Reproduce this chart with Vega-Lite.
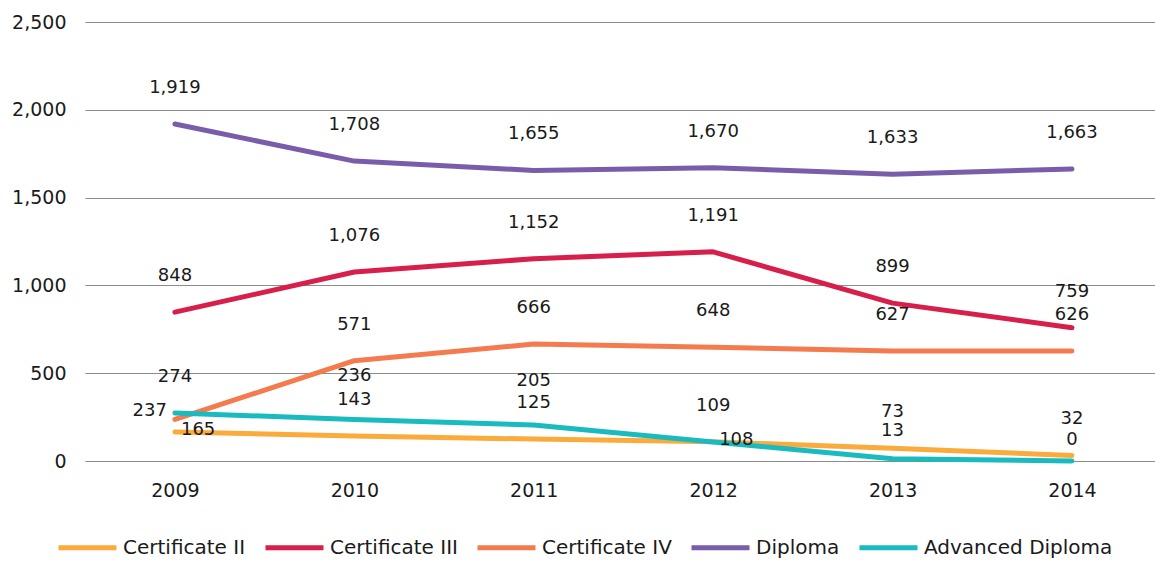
{
  "$schema": "https://vega.github.io/schema/vega-lite/v6.json",
  "width": 1070,
  "height": 439,
  "autosize": {"type": "none"},
  "padding": {"left": 85, "top": 22, "right": 0, "bottom": 101},
  "background": "white",
  "data": {
    "values": [
      {"series": "Certificate II", "year": "2009", "value": 165},
      {"series": "Certificate II", "year": "2010", "value": 143},
      {"series": "Certificate II", "year": "2011", "value": 125},
      {"series": "Certificate II", "year": "2012", "value": 109},
      {"series": "Certificate II", "year": "2013", "value": 73},
      {"series": "Certificate II", "year": "2014", "value": 32},
      {"series": "Certificate III", "year": "2009", "value": 848},
      {"series": "Certificate III", "year": "2010", "value": 1076},
      {"series": "Certificate III", "year": "2011", "value": 1152},
      {"series": "Certificate III", "year": "2012", "value": 1191},
      {"series": "Certificate III", "year": "2013", "value": 899},
      {"series": "Certificate III", "year": "2014", "value": 759},
      {"series": "Certificate IV", "year": "2009", "value": 237},
      {"series": "Certificate IV", "year": "2010", "value": 571},
      {"series": "Certificate IV", "year": "2011", "value": 666},
      {"series": "Certificate IV", "year": "2012", "value": 648},
      {"series": "Certificate IV", "year": "2013", "value": 627},
      {"series": "Certificate IV", "year": "2014", "value": 626},
      {"series": "Diploma", "year": "2009", "value": 1919},
      {"series": "Diploma", "year": "2010", "value": 1708},
      {"series": "Diploma", "year": "2011", "value": 1655},
      {"series": "Diploma", "year": "2012", "value": 1670},
      {"series": "Diploma", "year": "2013", "value": 1633},
      {"series": "Diploma", "year": "2014", "value": 1663},
      {"series": "Advanced Diploma", "year": "2009", "value": 274},
      {"series": "Advanced Diploma", "year": "2010", "value": 236},
      {"series": "Advanced Diploma", "year": "2011", "value": 205},
      {"series": "Advanced Diploma", "year": "2012", "value": 108},
      {"series": "Advanced Diploma", "year": "2013", "value": 13},
      {"series": "Advanced Diploma", "year": "2014", "value": 0}
    ]
  },
  "encoding": {
    "x": {
      "field": "year", "type": "ordinal",
      "scale": {"type": "point", "padding": 0.482, "align": 0.52},
      "axis": {"title": null, "domain": false, "ticks": false, "labelAngle": 0, "labelPadding": 20, "labelFontSize": 19, "grid": false}
    },
    "y": {
      "field": "value", "type": "quantitative",
      "scale": {"domain": [0, 2500], "nice": false},
      "axis": {"title": null, "values": [0, 500, 1000, 1500, 2000, 2500], "format": ",d", "domain": false, "ticks": false, "labelPadding": 19, "labelFontSize": 19, "gridColor": "#8c8c8c", "gridWidth": 1}
    },
    "color": {
      "field": "series", "type": "nominal",
      "scale": {
        "domain": ["Certificate II", "Certificate III", "Certificate IV", "Diploma", "Advanced Diploma"],
        "range": ["#FBAA3C", "#D71F4B", "#F47B4D", "#7A5DAA", "#19BBBF"]
      },
      "legend": {
        "title": null, "orient": "none", "direction": "horizontal",
        "legendX": -29, "legendY": 494,
        "symbolType": "stroke", "symbolSize": 3364, "symbolStrokeWidth": 5,
        "labelFontSize": 20, "labelOffset": 4, "columnPadding": 9,
        "labelLimit": 300, "padding": 0
      }
    }
  },
  "layer": [
    {
      "mark": {"type": "line", "strokeWidth": 5, "strokeCap": "round", "strokeJoin": "round"},
      "encoding": {}
    },
    {
      "transform": [{"filter": "!((datum.series=='Certificate IV'&&datum.year=='2009')||(datum.series=='Certificate II'&&datum.year=='2009')||(datum.series=='Advanced Diploma'&&(datum.year=='2012'||datum.year=='2010'||datum.year=='2011'||datum.year=='2013'||datum.year=='2014')))"}],
      "mark": {"type": "text", "dy": -36, "fontSize": 18},
      "encoding": {"text": {"field": "value", "type": "quantitative", "format": ","}, "color": {"value": "#1a1a1a"}}
    },
    {
      "transform": [{"filter": "(datum.series=='Certificate II'&&datum.year=='2009')||(datum.series=='Advanced Diploma'&&datum.year=='2012')"}],
      "mark": {"type": "text", "dy": -2, "dx": 6, "align": "left", "fontSize": 18},
      "encoding": {"text": {"field": "value", "type": "quantitative", "format": ","}, "color": {"value": "#1a1a1a"}}
    },
    {
      "transform": [{"filter": "datum.series=='Certificate IV'&&datum.year=='2009'"}],
      "mark": {"type": "text", "dy": -8, "dx": -8, "align": "right", "fontSize": 18},
      "encoding": {"text": {"field": "value", "type": "quantitative", "format": ","}, "color": {"value": "#1a1a1a"}}
    },
    {
      "transform": [{"filter": "datum.series=='Advanced Diploma'&&(datum.year=='2010'||datum.year=='2011')"}],
      "mark": {"type": "text", "dy": -44, "fontSize": 18},
      "encoding": {"text": {"field": "value", "type": "quantitative", "format": ","}, "color": {"value": "#1a1a1a"}}
    },
    {
      "transform": [{"filter": "datum.series=='Advanced Diploma'&&datum.year=='2013'"}],
      "mark": {"type": "text", "dy": -28, "fontSize": 18},
      "encoding": {"text": {"field": "value", "type": "quantitative", "format": ","}, "color": {"value": "#1a1a1a"}}
    },
    {
      "transform": [{"filter": "datum.series=='Advanced Diploma'&&datum.year=='2014'"}],
      "mark": {"type": "text", "dy": -21, "fontSize": 18},
      "encoding": {"text": {"field": "value", "type": "quantitative", "format": ","}, "color": {"value": "#1a1a1a"}}
    }
  ],
  "config": {
    "font": "DejaVu Sans",
    "view": {"stroke": null},
    "axis": {"labelColor": "#1a1a1a", "labelFont": "DejaVu Sans"},
    "legend": {"labelColor": "#1a1a1a", "labelFont": "DejaVu Sans"},
    "text": {"font": "DejaVu Sans", "baseline": "middle"}
  }
}
